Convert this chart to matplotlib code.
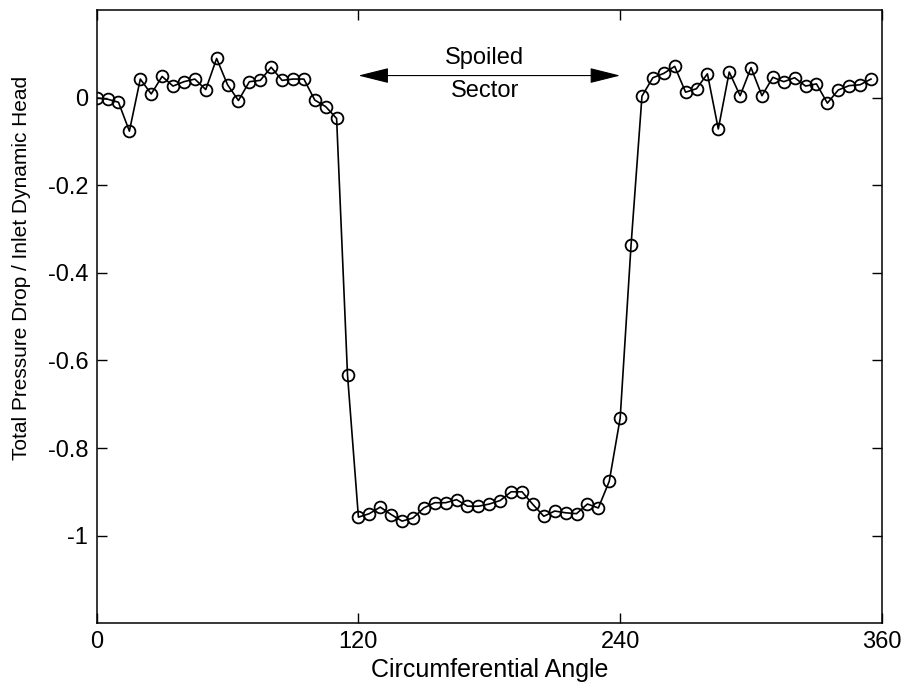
import matplotlib
matplotlib.use("Agg")
import matplotlib.pyplot as plt

plt.rcParams['font.family'] = ['Liberation Sans', 'DejaVu Sans']
plt.rcParams['axes.unicode_minus'] = False

# circumferential angle, 5 degree steps
angle = list(range(0, 360, 5))
pressure_drop = [
    0.000, -0.003, -0.010, -0.076, 0.043, 0.009, 0.049, 0.027, 0.037, 0.043,
    0.019, 0.090, 0.030, -0.006, 0.037, 0.040, 0.070, 0.040, 0.043, 0.043,
    -0.005, -0.020, -0.047, -0.633,
    -0.958, -0.950, -0.935, -0.952, -0.967, -0.960, -0.937, -0.925, -0.925, -0.918,
    -0.933, -0.933, -0.928, -0.920, -0.900, -0.900, -0.929, -0.956, -0.944, -0.948,
    -0.950, -0.928, -0.937, -0.876, -0.732, -0.336, 0.004,
    0.046, 0.056, 0.072, 0.013, 0.021, 0.055, -0.071, 0.059, 0.005, 0.069,
    0.005, 0.047, 0.037, 0.046, 0.027, 0.032, -0.012, 0.018, 0.028, 0.030, 0.043,
]
x_ticks = [0, 120, 240, 360]
y_ticks = [0, -0.2, -0.4, -0.6, -0.8, -1]
y_tick_labels = ["0", "-0.2", "-0.4", "-0.6", "-0.8", "-1"]
sector_start, sector_end = 120, 240

fig = plt.figure(figsize=(9.12, 6.9), dpi=100)
ax = fig.add_axes([0.106, 0.097, 0.861, 0.888])

ax.plot(angle, pressure_drop, color='black', lw=1.2, marker='o', ms=8.5,
        mfc='none', mec='black', mew=1.3)

ax.set_xlim(0, 360)
ax.set_ylim(-1.2, 0.2)
ax.set_xticks(x_ticks)
ax.set_yticks(y_ticks)
ax.set_yticklabels(y_tick_labels)
ax.tick_params(direction='in', top=True, right=True, length=7, width=1,
               labelsize=17, pad=6)
for s in ax.spines.values():
    s.set_linewidth(1.1)

ax.set_xlabel("Circumferential Angle", fontsize=18, labelpad=3)
ax.set_ylabel("Total Pressure Drop / Inlet Dynamic Head", fontsize=15)
ax.yaxis.set_label_coords(-0.084, 0.58)

# spoiled sector annotation
arrow_style = dict(arrowstyle='-|>,head_length=1.2,head_width=0.3',
                   color='black', lw=0.8, mutation_scale=16,
                   shrinkA=0, shrinkB=0)
ax.annotate("", xy=(sector_start, 0.051), xytext=(178, 0.051), arrowprops=arrow_style)
ax.annotate("", xy=(sector_end, 0.051), xytext=(178, 0.051), arrowprops=arrow_style)
ax.text(178, 0.066, "Spoiled", ha='center', va='bottom', fontsize=17,
        bbox=dict(fc='white', ec='none', pad=0.5))
ax.text(178, 0.040, "Sector", ha='center', va='top', fontsize=17,
        bbox=dict(fc='white', ec='none', pad=0.5))

fig.savefig("out.png", dpi=100)
